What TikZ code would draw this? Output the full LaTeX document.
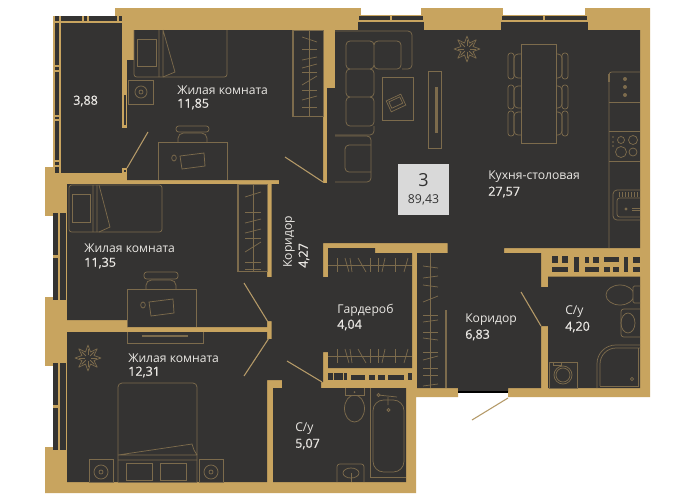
\documentclass[tikz,border=0pt]{standalone}
\usepackage{fontspec}
\setmainfont{Open Sans}
\newfontfamily\semib[FakeBold=0.6]{Open Sans}
\definecolor{goldw}{HTML}{C8A45F}
\definecolor{floorc}{HTML}{343332}
\definecolor{furn}{HTML}{7C6B4C}
\definecolor{doorc}{HTML}{B59A68}
\definecolor{labc}{HTML}{EAE8E4}
\tikzset{
 wall/.style={fill=goldw,draw=none},
 floorz/.style={fill=floorc,draw=none},
 furnl/.style={draw=furn,line width=0.55pt},
 doorl/.style={draw=doorc,line width=0.8pt},
 nm/.style={text=labc,font=\fontsize{9.1}{10}\selectfont,anchor=west,inner sep=0pt},
 val/.style={text=labc,font=\fontsize{9.4}{10}\selectfont\semib,anchor=west,inner sep=0pt},
 hole/.style={fill=white,draw=none},
 petal/.pic={
  \draw[furnl,line join=round] (90:13) \foreach \a in {0,45,...,315}{ -- (90+\a+22.5:6.5) -- (90+\a+45:13)} -- cycle;
  \foreach \a in {0,45,...,315}{\draw[furnl] (90+\a:3)--(90+\a:9);}
 }
}
\begin{document}
\begin{tikzpicture}[x=0.75pt,y=-0.75pt]
\useasboundingbox (0,0) rectangle (700,501);
\fill[white] (0,0) rectangle (700,501);
% gold silhouette
\fill[wall] (115,8)--(650,8)--(650,397)--(508,397)--(508,388)--(458,388)--(458,397)--(416,397)--(416,493)--(45,493)--(45,167)--(115,167)--cycle;
% top window notches
\fill[hole] (361,8) rectangle (421,15);
\fill[hole] (503,8) rectangle (585,15);
\foreach \x/\X in {358/424,500.5/587.5}{
 \fill[floorz] (\x,16) rectangle (\X,29.5);
 \fill[goldw] (\x,20) rectangle (\X,21.5);
 \fill[goldw] (\x,16) rectangle (\x+1,21);
 \fill[goldw] (\X-1,16) rectangle (\X,21);
 \fill[goldw] ({(\x+\X)/2-1},16) rectangle ({(\x+\X)/2+1},21);
}
% left windows
\foreach \y/\Y in {216/297,366/447}{
 \fill[hole] (45,\y) rectangle (52.5,\Y);
 \fill[floorz] (53,\y-3) rectangle (66,\Y+3);
 \fill[goldw] (58,\y-3) rectangle (59.5,\Y+3);
 \fill[goldw] (53,{(\y+\Y)/2-1.5}) rectangle (58,{(\y+\Y)/2+1.5});
}
% balcony
\fill[floorz] (53,16) rectangle (122,173);
\fill[goldw] (59,16) rectangle (61,173);
\fill[goldw] (53,21) rectangle (122,23);
\foreach \x in {59,82,87,117}{\fill[goldw] (\x,16) rectangle (\x+1.5,23);}
\foreach \y/\Y in {65/72,115/121,160/167}{\fill[goldw] (53,\y) rectangle (59,\Y);\fill[floorz] (54.5,\y+2) rectangle (59,\Y-2);}
\fill[goldw] (53,16) rectangle (54.5,173);
% door between balcony and room
\fill[floorz] (122,60) rectangle (127.5,168);
\fill[goldw] (122,60) rectangle (127.5,90);
\fill[goldw] (122,90) rectangle (127.5,128);
\fill[floorz] (123.5,95) rectangle (126,125);
\fill[goldw] (122,168) rectangle (127,173);
\fill[floorz] (123.5,169.5) rectangle (125.5,172);
% main floor
\fill[floorz] (335,30)--(640,30)--(640,248)--(504,248)--(504,253)--(541,253)--(541,287)--(548,287)--(548,276.5)--(640,276.5)--(640,388)--(548,388)--(548,326)--(541,326)--(541,388)--(508,388)--(508,392)--(458,392)--(458,388)--(417,388)--(417,253)--(447.5,253)--(447.5,243)--(323,243)--(323,277)--(328,277)--(328,248)--(375,248)--(375,253)--(412,253)--(412,368)--(328,368)--(328,352)--(323,352)--(323,382)--(321,382)--(321,388)--(406,388)--(406,482)--(273,482)--(273,388)--(282,388)--(282,380)--(267,380)--(267,482)--(67,482)--(67,332)--(267,332)--(267,339)--(271.5,339)--(271.5,321)--(267,321)--(267,327)--(127,327)--(127,320)--(67,320)--(67,184)--(267,184)--(267,277)--(271.5,277)--(271.5,184)--(279,184)--(279,180)--(127,180)--(127,60)--(134,60)--(134,30)--(323,30)--(323,183)--(327,183)--(327,88)--(335,88)--cycle;
\draw[black,line width=0.8pt] (458,392)--(508,392);
% small wall openings (gardrobe strip)
\foreach \a/\b/\c in {328/332.5/373,334/342.5/373,344/346.5/373,351/365/375,369/374.5/375,378/384.5/375,388/403.5/375,408/412/373}{\fill[floorz] (\a,\c) rectangle (\b,380);}
% C/y 4.20 strip
\foreach \a/\b/\c/\d in {551.5/558/256/263,562/567.5/256/263,551.5/567.5/266.5/272,574/578.5/256.5/272,584.5/589/256.5/263,592.5/599/256.5/263,584.5/599/266.5/272,603.5/619/256.5/262,603.5/610/266.5/272,612.5/619/266.5/272,623.5/627.5/256.5/272,632.5/640/256.5/263,632.5/640/266.5/272}{\fill[floorz] (\a,\c) rectangle (\b,\d);}
% Room 1
\draw[furnl,rounded corners=2pt] (134,30)--(134,77)--(227,77)--(227,30);
\draw[furnl] (159,30)--(159,77) (163,30)--(175,72)--(163,77) (163,30)--(163,77);
\draw[furnl] (137,39) rectangle (156,66);
\draw[furnl] (292,30) rectangle (323,116);
\draw[furn,line width=1.5pt] (293,30)--(293,116);
\draw[furnl] (309,30)--(309,116);
\foreach \a/\b in {37/42,49/49,60/57,68/64,72/72,85/76,90/90,100/96,107/107}{\draw[furnl] (302,\a)--(317,\b);}
\draw[furnl] (128,80) rectangle (153,104);
\draw[furnl] (141,92) circle [radius=6] (141,92) circle [radius=2];
\draw[doorl] (127,168)--(148,132);
\draw[furnl] (158,180)--(158,142)--(227,142)--(227,180);
\draw[furnl,rounded corners=2pt] (176,126) rectangle (209,132);
\draw[furnl,rounded corners=4pt] (178,142)--(178,133)--(207,133)--(207,142);
\draw[furnl] (180,156)--(204,153)--(205,166)--(182,169)--cycle;
\draw[furnl] (174,158) ellipse [x radius=2.3,y radius=3];
\draw[doorl] (285,157)--(323,182);
% Room 2
\draw[furnl,rounded corners=2pt] (69,185) rectangle (162,232);
\draw[furnl] (93,185)--(93,232) (97,185)--(97,232) (99,185)--(110,227)--(99,232);
\draw[furnl] (72,194) rectangle (90,222);
\draw[furnl] (237,184) rectangle (267,271);
\draw[furn,line width=1.5pt] (238,184)--(238,271);
\draw[furnl] (253,184)--(253,271);
\foreach \a/\b in {197/192,212/212,223/219,233/229,238/238,252/242,262/262,269/269}{\draw[furnl] (245,\a)--(261,\b);}
\draw[furnl] (127,327)--(127,289)--(196,289)--(196,327);
\draw[furnl,rounded corners=2pt] (144,272) rectangle (178,279);
\draw[furnl,rounded corners=4pt] (146,289)--(146,280)--(176,280)--(176,289);
\draw[furnl] (149,302)--(173,299)--(174,313)--(151,316)--cycle;
\draw[furnl] (143,305) ellipse [x radius=2.3,y radius=3];
\draw[doorl] (244,283)--(268,322);
% Room 3
\draw[furnl] (127,332)--(127,343)--(203,343)--(203,332);
\draw[furn,line width=2pt] (142,336)--(188,336);
\pic at (88,358) {petal};
\draw[furnl,rounded corners=3pt] (118,482)--(118,383)--(197,383)--(197,482);
\draw[furnl,rounded corners=3pt] (118,482)--(197,482);
\draw[furnl] (118,455)--(197,455) (118,460)--(197,460) (118,455)--(192,444)--(194,450)--(197,455);
\draw[furnl] (126,463) rectangle (152,480) (160,463) rectangle (186,480);
\draw[furnl] (89,459) rectangle (113,482) (199,459) rectangle (223,482);
\foreach \c in {101,211}{\draw[furnl] (\c,472) circle [radius=7] (\c,472) circle [radius=2];}
\draw[doorl] (244,376)--(269,338);
\draw[doorl] (287,361)--(322,382);
% Gardrobe
\foreach \y in {265,356}{
 \draw[furnl] (328,\y)--(412,\y);
 \foreach \a/\b in {337/337,345/349,350/352,358/366,370/370,378/378,385/382,395/395,408/404}{\draw[furnl] (\a,\y-7)--(\b,\y+7);}
}
% Wardrobe corridor
\draw[furnl] (430,253)--(430,388);
\foreach \a/\b in {266/268,278/276,285/287,302/296,315/315,322/320,332/332,338/340,352/352,360/356,368/368,375/375,386/384}{\draw[furnl] (423,\a)--(438,\b);}
\draw[furn,line width=0.9pt] (446,310)--(446,388);
% C/y 5.07
\draw[furnl] (354.5,408.5) ellipse [x radius=10,y radius=13.5];
\fill[floorz] (345,388) rectangle (364,395);
\draw[furnl] (345,388)--(345,395)--(364,395)--(364,388);
\fill[furn] (354.5,392) circle [radius=1];
\draw[furnl] (370,388)--(370,477)--(406,477);
\draw[furnl,rounded corners=8pt] (373,400) rectangle (404,472);
\draw[furnl] (378,395)--(397,397) (388,397)--(388,405);
\draw[furnl] (378.5,395) circle [radius=1.7] (388.5,410) circle [radius=1.5];
\draw[furnl,rounded corners=2pt] (337,482)--(337,464)--(364,464)--(364,482);
\draw[furnl] (351,473) ellipse [x radius=8,y radius=5];
\draw[furnl] (351,473)--(351,482);
% C/y 4.20
\draw[furnl] (620,295) ellipse [x radius=14,y radius=10];
\fill[floorz] (633,286) rectangle (640,303);
\draw[furnl,rounded corners=1pt] (640,286)--(633,286)--(633,303)--(640,303);
\draw[furnl,rounded corners=2pt] (640,309)--(621,309)--(621,337)--(640,337);
\draw[furnl] (628,323) ellipse [x radius=7,y radius=10];
\draw[furnl,rounded corners=14pt] (640,345)--(597,345)--(597,388);
\draw[furnl,rounded corners=12pt] (640,348)--(600,348)--(600,386);
\draw[furnl] (600,386)--(638,386)--(638,348);
\draw[furnl] (632,379) circle [radius=1.7];
\draw[furnl] (549,362) rectangle (577,388);
\draw[furnl] (563,375) circle [radius=9] (563,375) circle [radius=7];
\draw[furnl] (553,362) rectangle (561,365);
\draw[doorl] (521,292)--(541,326);
\draw[doorl] (508,398)--(472,420);
% Kitchen
\draw[furnl,rounded corners=3pt] (335,31)--(412,31)--(412,69)--(402,69);
\draw[furnl,rounded corners=3pt] (335,135)--(374,135)--(374,126);
\draw[furnl,rounded corners=3pt] (346,41) rectangle (374,69) (374,41) rectangle (401,69) (346,69) rectangle (374,97) (346,97) rectangle (374,126);
\draw[furnl,rounded corners=3pt] (335,136)--(371,136)--(371,182)--(335,182);
\draw[furnl,rounded corners=3pt] (371,145)--(345,145)--(345,172)--(371,172);
\draw[furnl] (382,77) rectangle (413,120);
\begin{scope}[shift={(396,103)},rotate=25]
\draw[furnl] (-8,-6) rectangle (8,6) (-6,-4) rectangle (6,3);
\end{scope}
\draw[furnl] (428,71) rectangle (441,148);
\fill[furn] (435,87) rectangle (438,133);
\pic at (467,49) {petal};
\draw[furnl] (521,44) rectangle (556,143);
\foreach \y/\Y in {53/79,85/109,111/136}{
 \draw[furnl,rounded corners=2pt] (508,\y) rectangle (514,\Y);
 \draw[furnl,rounded corners=3pt] (521,\y+1)--(514,\y+1)--(514,\Y-1)--(521,\Y-1);
 \draw[furnl,rounded corners=2pt] (562,\y) rectangle (568,\Y);
 \draw[furnl,rounded corners=3pt] (556,\y+1)--(562,\y+1)--(562,\Y-1)--(556,\Y-1);
}
\draw[furnl,rounded corners=2pt] (640,72)--(609,72)--(609,248);
\draw[furnl] (608,74) rectangle (609.5,81);
\foreach \y in {102,131,161}{\draw[furnl] (609,\y)--(640,\y);}
\foreach \y in {79,87,95}{\fill[furn] (625,\y) circle [radius=2];}
\draw[furnl] (621,140) circle [radius=3.5] (633,140) circle [radius=4.5] (621,152) circle [radius=5.5] (633,152) circle [radius=4];
\foreach \y in {137,142,146}{\fill[furn] (613,\y) circle [radius=0.8];}
\draw[furnl,rounded corners=3pt] (640,190)--(613,190)--(613,220)--(640,220);
\draw[furnl,rounded corners=2pt] (640,198)--(617,198)--(617,217)--(640,217);
\foreach \x in {619,622,625,628,631,634,637}{\draw[furnl] (\x,192)--(\x,197);}
\draw[furnl] (632,208)--(640,208) (632,210)--(640,210);
\draw[furnl] (626,209) circle [radius=1];
% Label box
\node[fill=white!85!black,minimum width=38.25pt,minimum height=38.25pt,inner sep=0pt] (totalbox) at (423.5,189.5) {};
\node[text=black!80,font=\fontsize{13.5}{15}\selectfont,inner sep=0pt] (rooms) at (423.5,180) {3};
\node[text=black!80,font=\fontsize{9.2}{11}\selectfont,inner sep=0pt] (total) at (423.5,200) {89,43};
% Labels
\node[nm] (a1) at (177,90) {Жилая комната};
\node[val] (a2) at (177,104) {11,85};
\node[val] (b) at (73,101) {3,88};
\node[nm] (c1) at (84,248) {Жилая комната};
\node[val] (c2) at (84,263) {11,35};
\node[nm] (d1) at (128,358) {Жилая комната};
\node[val] (d2) at (128,372) {12,31};
\node[nm] (e1) at (488,177) {Кухня-столовая};
\node[val] (e2) at (488,192) {27,57};
\node[nm,rotate=90] (f1) at (289,268) {Коридор};
\node[val,rotate=90] (f2) at (304,268) {4,27};
\node[nm] (g1) at (337,310) {Гардероб};
\node[val] (g2) at (337,325) {4,04};
\node[nm] (h1) at (465,320) {Коридор};
\node[val] (h2) at (465,335) {6,83};
\node[nm] (i1) at (565,312) {С/у};
\node[val] (i2) at (565,327) {4,20};
\node[nm] (j1) at (295,429) {С/у};
\node[val] (j2) at (295,444) {5,07};
\end{tikzpicture}
\end{document}
